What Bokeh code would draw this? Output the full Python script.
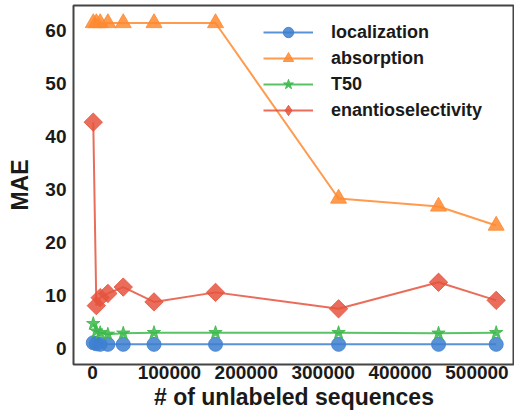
import numpy as np
from bokeh.plotting import figure
from bokeh.models import FixedTicker, PrintfTickFormatter, Range1d, Legend
from bokeh.embed import file_html
from bokeh.resources import INLINE

n_unlabeled = [1000, 5000, 10000, 20000, 40000, 80000, 160000, 320000, 450000, 525000]
localization = [1.1, 0.9, 0.8, 0.8, 0.8, 0.8, 0.8, 0.8, 0.8, 0.8]
absorption = [61.4, 61.4, 61.4, 61.4, 61.4, 61.4, 61.4, 28.3, 26.8, 23.2]
t50 = [4.7, 3.3, 3.0, 2.7, 2.9, 3.0, 3.0, 3.0, 2.9, 3.0]
enantioselectivity = [42.7, 8.1, 9.6, 10.4, 11.6, 8.8, 10.6, 7.5, 12.5, 9.1]

x_ticks = [0, 100000, 200000, 300000, 400000, 500000]
y_ticks = [0, 10, 20, 30, 40, 50, 60]

colors = {"localization": "#3d7fd0", "absorption": "#ff8a30",
          "T50": "#3cb84a", "enantioselectivity": "#e5533d"}

p = figure(frame_width=441, frame_height=359, output_backend="svg", toolbar_location=None,
           x_range=Range1d(-24700, 548800), y_range=Range1d(-3.0, 64.7),
           min_border_left=73, min_border_right=0, min_border_top=5, min_border_bottom=40)

font = "Liberation Sans"
alpha = 0.85
r = []
r.append((p.line(n_unlabeled, localization, line_color=colors["localization"], line_width=2, line_alpha=alpha),
          p.scatter(n_unlabeled, localization, marker="circle", size=14, fill_color=colors["localization"],
                    line_color=colors["localization"], fill_alpha=alpha, line_alpha=alpha)))
r.append((p.line(n_unlabeled, absorption, line_color=colors["absorption"], line_width=2, line_alpha=alpha),
          p.scatter(n_unlabeled, absorption, marker="triangle", size=16, fill_color=colors["absorption"],
                    line_color=colors["absorption"], fill_alpha=alpha, line_alpha=alpha)))
r.append((p.line(n_unlabeled, t50, line_color=colors["T50"], line_width=2, line_alpha=alpha),
          p.scatter(n_unlabeled, t50, marker="star", size=14, fill_color=colors["T50"],
                    line_color=colors["T50"], fill_alpha=alpha, line_alpha=alpha)))
en_line = p.line(n_unlabeled, enantioselectivity, line_color=colors["enantioselectivity"], line_width=2,
                 line_alpha=alpha)
p.scatter(n_unlabeled, enantioselectivity, marker="square", angle=np.pi / 4, size=13,
          fill_color=colors["enantioselectivity"], line_color=colors["enantioselectivity"],
          fill_alpha=alpha, line_alpha=alpha)
# hidden diamond renderer of the same data, used only for the legend glyph
en_leg = p.scatter(n_unlabeled, enantioselectivity, marker="diamond", size=20,
                   fill_color=colors["enantioselectivity"], line_color=colors["enantioselectivity"],
                   fill_alpha=alpha, line_alpha=alpha, visible=False)
r.append((en_line, en_leg))

labels = ["localization", "absorption", "T50", "enantioselectivity"]
legend = Legend(items=[(lab, list(rr)) for lab, rr in zip(labels, r)],
                location=(190, 241))
legend.click_policy = "none"
legend.padding = 0
legend.margin = 0
legend.spacing = 0
legend.border_line_alpha = 0
legend.background_fill_alpha = 0
legend.glyph_width = 50
legend.glyph_height = 26
legend.label_height = 26
legend.label_standoff = 18
legend.label_text_font = font
legend.label_text_font_style = "bold"
legend.label_text_font_size = "18px"
legend.label_text_color = "#1a1a1a"
p.add_layout(legend, "center")

p.xgrid.visible = False
p.ygrid.visible = False
p.outline_line_color = "#444444"
p.outline_line_width = 2

p.xaxis.ticker = FixedTicker(ticks=x_ticks)
p.yaxis.ticker = FixedTicker(ticks=y_ticks)
p.xaxis.formatter = PrintfTickFormatter(format="%d")
p.yaxis.formatter = PrintfTickFormatter(format="%d")
for ax in (p.xaxis, p.yaxis):
    ax.axis_line_color = None
    ax.major_tick_line_color = None
    ax.minor_tick_line_color = None
    ax.major_tick_out = 0
    ax.major_tick_in = 0
    ax.minor_tick_out = 0
    ax.minor_tick_in = 0
    ax.major_label_text_font = font
    ax.major_label_text_font_style = "bold"
    ax.major_label_text_font_size = "19px"
    ax.major_label_text_color = "#1a1a1a"
    ax.axis_label_text_font = font
    ax.axis_label_text_font_style = "bold"
    ax.axis_label_text_font_size = "23px"
    ax.axis_label_text_color = "#1a1a1a"
p.xaxis.axis_label = "# of unlabeled sequences"
p.yaxis.axis_label = "MAE"
p.xaxis.major_label_standoff = 1
p.yaxis.major_label_standoff = 7
p.xaxis.axis_label_standoff = 2
p.yaxis.axis_label_standoff = 9

open("out.html", "w").write(file_html(p, INLINE))
